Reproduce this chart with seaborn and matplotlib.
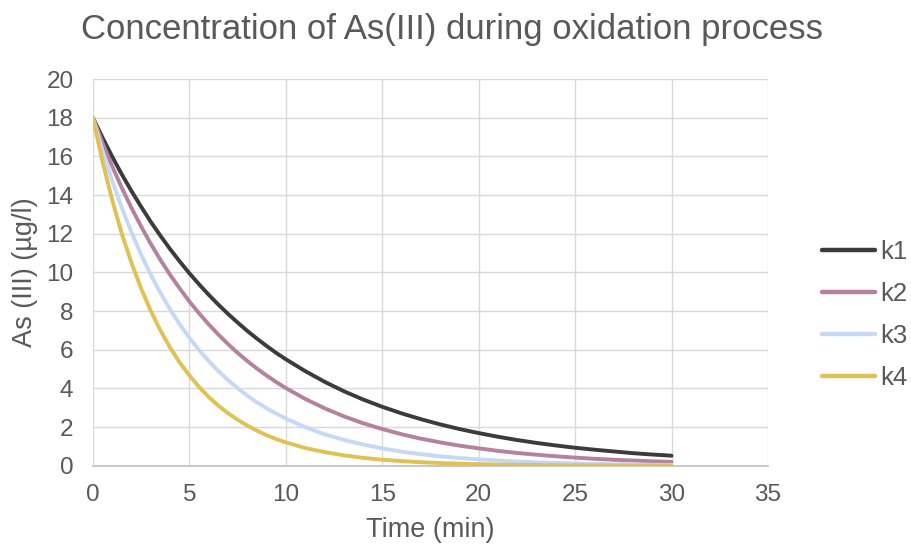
import matplotlib
matplotlib.use("Agg")
import matplotlib.pyplot as plt
import seaborn as sns
import pandas as pd

time_min = [0, 0.5, 1, 1.5, 2, 2.5, 3, 3.5, 4, 4.5, 5, 5.5, 6, 6.5, 7, 7.5, 8, 8.5, 9, 9.5, 10,
            11, 12, 13, 14, 15, 16, 17, 18, 19, 20, 21, 22, 23, 24, 25, 26, 27, 28, 29, 30]
k1 = [18.0, 16.97, 15.99, 15.07, 14.21, 13.40, 12.62, 11.90, 11.21, 10.57, 9.96, 9.39, 8.85, 8.34,
      7.86, 7.41, 6.98, 6.58, 6.20, 5.84, 5.51,
      4.90, 4.35, 3.86, 3.43, 3.05, 2.71, 2.41, 2.14, 1.90, 1.69, 1.50, 1.33, 1.18, 1.05, 0.93,
      0.83, 0.74, 0.65, 0.58, 0.52]
k2 = [18.0, 16.70, 15.49, 14.37, 13.34, 12.38, 11.48, 10.65, 9.88, 9.17, 8.50, 7.89, 7.32, 6.79,
      6.30, 5.84, 5.42, 5.03, 4.67, 4.33, 4.02,
      3.46, 2.98, 2.56, 2.20, 1.90, 1.63, 1.40, 1.21, 1.04, 0.90, 0.77, 0.66, 0.57, 0.49, 0.42,
      0.36, 0.31, 0.27, 0.23, 0.20]
k3 = [18.0, 16.29, 14.74, 13.34, 12.07, 10.92, 9.88, 8.94, 8.09, 7.32, 6.62, 5.99, 5.42, 4.90,
      4.44, 4.02, 3.63, 3.28, 2.98, 2.70, 2.44,
      2.00, 1.63, 1.34, 1.10, 0.90, 0.73, 0.60, 0.49, 0.40, 0.33, 0.27, 0.22, 0.18, 0.15, 0.12,
      0.10, 0.08, 0.07, 0.05, 0.04]
k4 = [18.0, 15.73, 13.74, 12.00, 10.49, 9.17, 8.01, 7.00, 6.11, 5.34, 4.67, 4.08, 3.56, 3.11,
      2.72, 2.38, 2.08, 1.82, 1.58, 1.38, 1.21,
      0.92, 0.71, 0.54, 0.41, 0.31, 0.24, 0.18, 0.14, 0.11, 0.08, 0.06, 0.05, 0.04, 0.03, 0.02,
      0.02, 0.01, 0.01, 0.01, 0.01]
series_names = ["k1", "k2", "k3", "k4"]
colors = ["#3b3b3b", "#b5819f", "#c5d8f8", "#dfc253"]

frames = []
for name, vals in zip(series_names, [k1, k2, k3, k4]):
    frames.append(pd.DataFrame({"Time": time_min, "As": vals, "series": name}))
df = pd.concat(frames, ignore_index=True)

sns.set_theme(style="white")
plt.rcParams["font.family"] = ["Liberation Sans", "DejaVu Sans"]
txt = "#595959"

fig, ax = plt.subplots(figsize=(9.11, 5.46), dpi=100)
fig.subplots_adjust(left=0.102, right=0.843, top=0.855, bottom=0.147)

sns.lineplot(data=df, x="Time", y="As", hue="series", palette=colors,
             linewidth=2.8, ax=ax, legend=True)
for ln in ax.get_lines():
    ln.set_solid_joinstyle("round")
    ln.set_solid_capstyle("round")

ax.set_xlim(0, 35)
ax.set_ylim(0, 20)
ax.set_xticks(range(0, 36, 5))
ax.set_yticks(range(0, 21, 2))
ax.grid(True, color="#d9d9d9", linewidth=1.0)
ax.set_axisbelow(True)
for s in ["top", "right", "left"]:
    ax.spines[s].set_visible(False)
ax.spines["bottom"].set_color("#bfbfbf")
ax.spines["bottom"].set_linewidth(1.2)
ax.tick_params(axis="both", length=0, labelsize=17.5, colors=txt)
ax.tick_params(axis="x", pad=13)
ax.tick_params(axis="y", pad=14)

ax.set_xlabel("Time (min)", fontsize=19.5, color=txt)
ax.set_ylabel("As (III) (µg/l)", fontsize=19.5, color=txt)
ax.xaxis.set_label_coords(0.5, -0.132)
ax.yaxis.set_label_coords(-0.081, 0.5)
fig.suptitle("Concentration of As(III) during oxidation process", fontsize=25,
             color=txt, x=0.496, y=0.977)

handles, labels = ax.get_legend_handles_labels()
leg = ax.legend(handles, labels, loc="center left", bbox_to_anchor=(1.08, 0.39),
                frameon=False, fontsize=18.5, handlelength=2.05, handletextpad=0.2,
                labelspacing=0.71, borderaxespad=0, borderpad=0, labelcolor=txt)
for line in leg.get_lines():
    line.set_linewidth(3.2)

fig.savefig("out.png", dpi=100)
